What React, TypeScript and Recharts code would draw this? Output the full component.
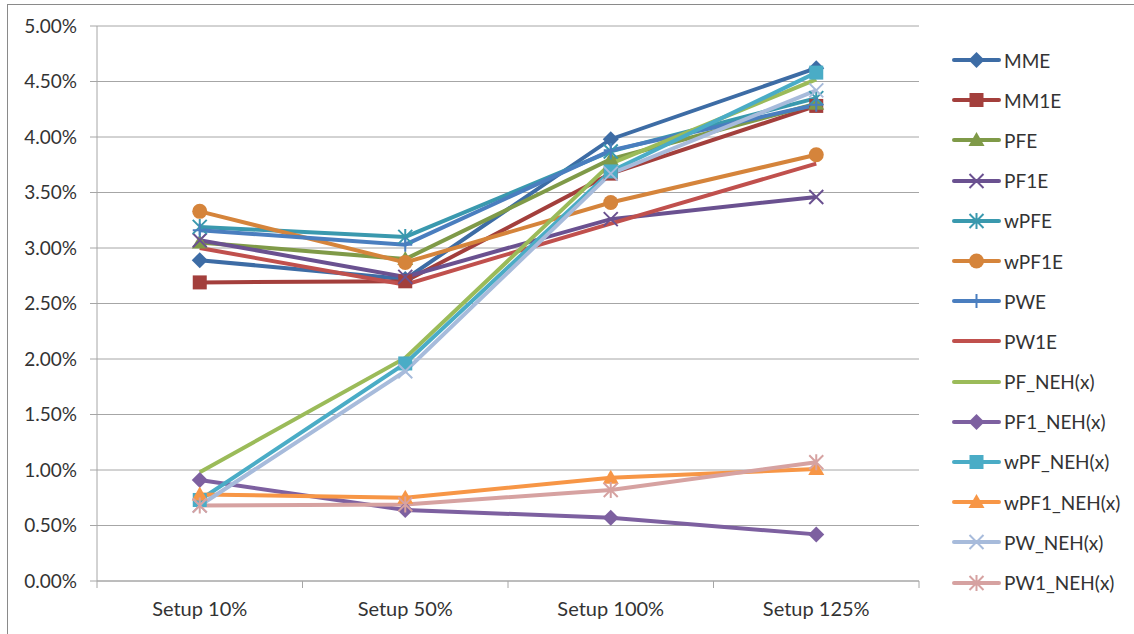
import { LineChart, Line, XAxis, YAxis, CartesianGrid, Legend } from "recharts";

// categories and series values (percent)
const setups = ["Setup 10%", "Setup 50%", "Setup 100%", "Setup 125%"];
const yTicks = [0, 0.5, 1, 1.5, 2, 2.5, 3, 3.5, 4, 4.5, 5];
const boundaryTicks = [0, 1, 2, 3, 4];

const mme = [2.89, 2.72, 3.98, 4.62];
const mm1e = [2.69, 2.7, 3.67, 4.28];
const pfe = [3.05, 2.9, 3.8, 4.3];
const pf1e = [3.07, 2.74, 3.26, 3.46];
const wpfe = [3.19, 3.1, 3.87, 4.35];
const wpf1e = [3.33, 2.87, 3.41, 3.84];
const pwe = [3.16, 3.03, 3.88, 4.29];
const pw1e = [3.0, 2.67, 3.22, 3.76];
const pfNeh = [0.98, 2.01, 3.76, 4.52];
const pf1Neh = [0.91, 0.64, 0.57, 0.42];
const wpfNeh = [0.73, 1.96, 3.69, 4.58];
const wpf1Neh = [0.78, 0.75, 0.93, 1.01];
const pwNeh = [0.68, 1.89, 3.67, 4.42];
const pw1Neh = [0.68, 0.69, 0.82, 1.07];

type Shape = "diamond" | "square" | "triangle" | "x" | "star" | "circle" | "plus" | "none";

const series: { key: string; values: number[]; color: string; shape: Shape }[] = [
  { key: "MME", values: mme, color: "#3d6ca5", shape: "diamond" },
  { key: "MM1E", values: mm1e, color: "#a33f3c", shape: "square" },
  { key: "PFE", values: pfe, color: "#7f9a48", shape: "triangle" },
  { key: "PF1E", values: pf1e, color: "#6a5190", shape: "x" },
  { key: "wPFE", values: wpfe, color: "#3a99ae", shape: "star" },
  { key: "wPF1E", values: wpf1e, color: "#d5843b", shape: "circle" },
  { key: "PWE", values: pwe, color: "#4a7ebf", shape: "plus" },
  { key: "PW1E", values: pw1e, color: "#c0504d", shape: "none" },
  { key: "PF_NEH(x)", values: pfNeh, color: "#9bbb59", shape: "none" },
  { key: "PF1_NEH(x)", values: pf1Neh, color: "#7d60a0", shape: "diamond" },
  { key: "wPF_NEH(x)", values: wpfNeh, color: "#4aacc6", shape: "square" },
  { key: "wPF1_NEH(x)", values: wpf1Neh, color: "#f79646", shape: "triangle" },
  { key: "PW_NEH(x)", values: pwNeh, color: "#a7bbdb", shape: "x" },
  { key: "PW1_NEH(x)", values: pw1Neh, color: "#d6a2a1", shape: "star" },
];

// pos = category index measured at the middle of its slot, used by the boundary tick axis
const data = setups.map((name, i) => {
  const row: Record<string, string | number> = { name, pos: i + 0.5 };
  series.forEach((s) => {
    row[s.key] = s.values[i];
  });
  return row;
});

const font = "Lato, 'Liberation Sans', sans-serif";
const textColor = "#333";
const gridColor = "#a6a6a6";

function Marker({ cx, cy, shape, color }: { cx: number; cy: number; shape: Shape; color: string }) {
  const r = 7;
  switch (shape) {
    case "diamond":
      return <path d={`M${cx},${cy - r - 1}L${cx + r + 1},${cy}L${cx},${cy + r + 1}L${cx - r - 1},${cy}Z`} fill={color} />;
    case "square":
      return <rect x={cx - r} y={cy - r} width={r * 2} height={r * 2} fill={color} />;
    case "triangle":
      return <path d={`M${cx},${cy - r - 1}L${cx + r + 1},${cy + r - 1}L${cx - r - 1},${cy + r - 1}Z`} fill={color} />;
    case "circle":
      return <circle cx={cx} cy={cy} r={r + 0.5} fill={color} />;
    case "x":
      return (
        <path
          d={`M${cx - r},${cy - r}L${cx + r},${cy + r}M${cx - r},${cy + r}L${cx + r},${cy - r}`}
          stroke={color}
          strokeWidth={2}
          fill="none"
        />
      );
    case "plus":
      return (
        <path d={`M${cx - r},${cy}L${cx + r},${cy}M${cx},${cy - r}L${cx},${cy + r}`} stroke={color} strokeWidth={2} fill="none" />
      );
    case "star":
      return (
        <path
          d={`M${cx - r},${cy - r}L${cx + r},${cy + r}M${cx - r},${cy + r}L${cx + r},${cy - r}M${cx},${cy - r - 1}L${cx},${cy + r + 1}`}
          stroke={color}
          strokeWidth={2}
          fill="none"
        />
      );
    default:
      return null;
  }
}

function LegendList() {
  return (
    <div style={{ fontFamily: font, fontSize: 19, color: textColor }}>
      {series.map((s) => (
        <div key={s.key} style={{ display: "flex", alignItems: "center", height: 40.2 }}>
          <svg width={50} height={20} style={{ marginRight: 2 }}>
            <line x1={2} y1={10} x2={47} y2={10} stroke={s.color} strokeWidth={4} strokeLinecap="round" />
            <Marker cx={24.5} cy={10} shape={s.shape} color={s.color} />
          </svg>
          <span>{s.key}</span>
        </div>
      ))}
    </div>
  );
}

export default function App() {
  return (
    <div style={{ position: "absolute", left: 0, top: 0, width: 1134, height: 634, background: "#fff", overflow: "hidden" }}>
      <div
        style={{
          position: "absolute",
          left: 7,
          top: 4,
          width: 1140,
          height: 640,
          border: "1px solid #8a8a8a",
        }}
      />
      <LineChart
        width={1134}
        height={634}
        data={data}
        margin={{ top: 26, right: 35, bottom: 22, left: 17 }}
        style={{ fontFamily: font }}
      >
        <CartesianGrid horizontal vertical={false} stroke={gridColor} xAxisId="b" />
        {/* axis line plus tick marks on the category boundaries */}
        <XAxis
          xAxisId="a"
          dataKey="pos"
          type="number"
          domain={[0, 4]}
          allowDataOverflow
          ticks={boundaryTicks}
          interval={0}
          height={1}
          tickSize={7}
          stroke={gridColor}
          tick={() => <g />}
        />
        <XAxis
          xAxisId="b"
          dataKey="name"
          scale="band"
          axisLine={false}
          tickLine={false}
          tickSize={0}
          tickMargin={20}
          height={30}
          tick={{ fill: textColor, fontSize: 20 }}
        />
        <YAxis
          domain={[0, 5]}
          ticks={yTicks}
          width={80}
          stroke={gridColor}
          tickSize={7}
          tickMargin={13}
          tickFormatter={(v: number) => `${v.toFixed(2)}%`}
          tick={{ fill: textColor, fontSize: 19 }}
          interval={0}
        />
        <Legend
          layout="vertical"
          align="right"
          verticalAlign="top"
          wrapperStyle={{ width: 180, left: 952, top: 40 }}
          content={() => <LegendList />}
        />
        {series.map((s) => (
          <Line
            key={s.key}
            xAxisId="b"
            dataKey={s.key}
            stroke={s.color}
            strokeWidth={4}
            isAnimationActive={false}
            dot={(p: any) => <Marker key={`${s.key}-${p.index}`} cx={p.cx} cy={p.cy} shape={s.shape} color={s.color} />}
            activeDot={false}
          />
        ))}
      </LineChart>
    </div>
  );
}
